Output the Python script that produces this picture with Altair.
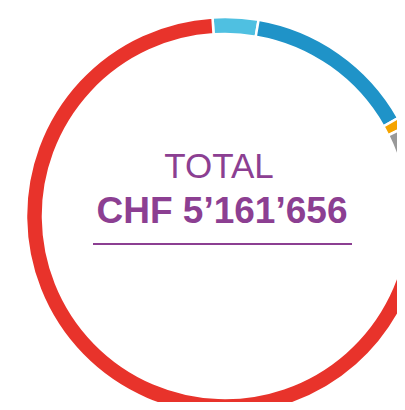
import altair as alt
import pandas as pd
import math

categories = ["Catégorie A", "Catégorie B", "Catégorie C", "Catégorie D", "Catégorie E"]
values = [191000, 728000, 46000, 449000, 3747656]
colors = ["#4FC0E1", "#1F93C8", "#F5A400", "#999999", "#E8332B"]
order = [1, 2, 3, 4, 5]

title_label = "TOTAL"
total_label = "CHF 5’161’656"

df = pd.DataFrame({"cat": categories, "value": values, "ord": order})

start = -3.6 * math.pi / 180

ring = alt.Chart(df).mark_arc(
    outerRadius=199, innerRadius=182, stroke="white", strokeWidth=2.5, clip=True
).encode(
    theta=alt.Theta("value:Q", stack=True, scale=alt.Scale(range=[start, start + 2 * math.pi])),
    order=alt.Order("ord:Q"),
    color=alt.Color("cat:N", scale=alt.Scale(domain=categories, range=colors), legend=None),
    x=alt.value(217),
    y=alt.value(208),
)

purple = "#8C3F92"

t1 = alt.Chart(pd.DataFrame({"t": [title_label]})).mark_text(
    font="Liberation Sans", fontSize=35, color=purple, align="center", baseline="alphabetic"
).encode(text="t:N", x=alt.value(211), y=alt.value(170))

t2 = alt.Chart(pd.DataFrame({"t": [total_label]})).mark_text(
    font="Liberation Sans", fontSize=37, fontWeight="bold", color=purple, align="center", baseline="alphabetic"
).encode(text="t:N", x=alt.value(214), y=alt.value(215))

rule = alt.Chart(pd.DataFrame({"a": [0]})).mark_rule(color=purple, strokeWidth=2).encode(
    x=alt.value(85), x2=alt.value(344), y=alt.value(236)
)

chart = alt.layer(ring, t1, t2, rule).properties(
    width=389, height=394, padding=0
).configure_view(stroke=None)

chart.save("out.html", embed_options={"renderer": "svg", "actions": False})
